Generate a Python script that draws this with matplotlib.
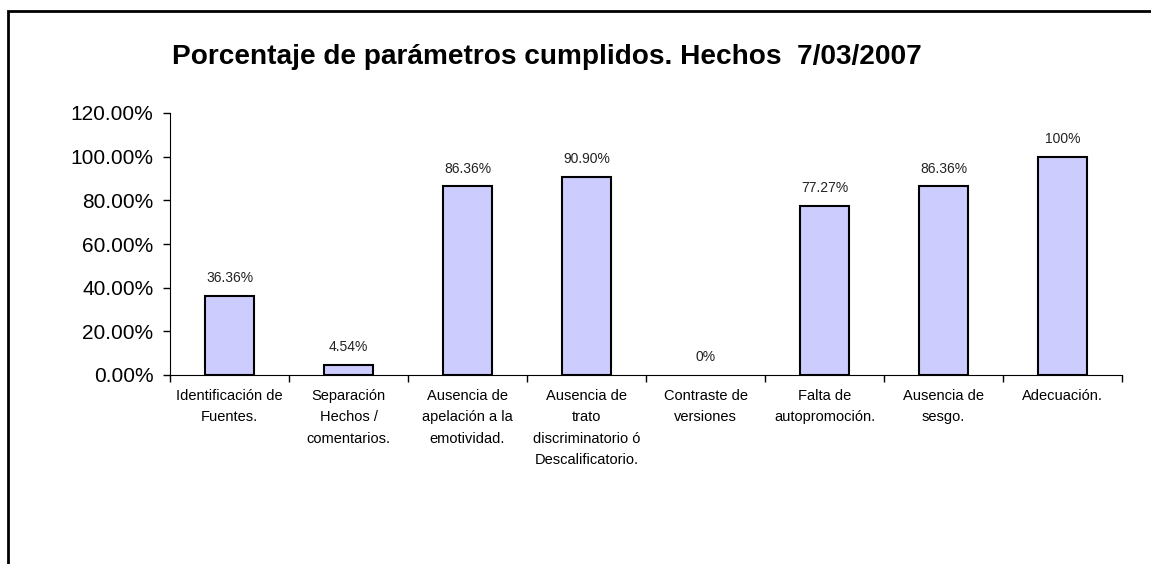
import matplotlib
matplotlib.use("Agg")
import matplotlib.pyplot as plt
from matplotlib.patches import Rectangle
from matplotlib.ticker import FuncFormatter, MultipleLocator

plt.rcParams["font.family"] = ["Liberation Sans", "DejaVu Sans"]

CATEGORIES = [
    "Identificación de\nFuentes.",
    "Separación\nHechos /\ncomentarios.",
    "Ausencia de\napelación a la\nemotividad.",
    "Ausencia de\ntrato\ndiscriminatorio ó\nDescalificatorio.",
    "Contraste de\nversiones",
    "Falta de\nautopromoción.",
    "Ausencia de\nsesgo.",
    "Adecuación.",
]
VALUES = [36.36, 4.54, 86.36, 90.90, 0.0, 77.27, 86.36, 100.0]
VALUE_LABELS = ["36.36%", "4.54%", "86.36%", "90.90%", "0%", "77.27%", "86.36%", "100%"]
TITLE = "Porcentaje de parámetros cumplidos. Hechos  7/03/2007"

fig = plt.figure(figsize=(11.51, 5.64), dpi=100)
# chart frame (only left/top edges visible in the crop)
fig.patches.append(Rectangle((8 / 1151, -0.1), 1.2, (564 - 11) / 564 + 0.1,
                             transform=fig.transFigure, fill=False,
                             edgecolor="black", linewidth=2))

ax = fig.add_axes([170 / 1151, 1 - 375 / 564, (1122 - 170) / 1151, (375 - 113) / 564])
x = list(range(len(VALUES)))
edges = ["black" if v > 0 else "none" for v in VALUES]
ax.bar(x, VALUES, width=0.41, color="#CCCCFF", edgecolor=edges, linewidth=1.5)

for xi, v, lab in zip(x, VALUES, VALUE_LABELS):
    ax.annotate(lab, (xi, v), xytext=(0, 10), textcoords="offset points",
                ha="center", va="baseline", fontsize=10, color="#222222")

ax.set_xlim(-0.5, len(VALUES) - 0.5)
ax.set_ylim(0, 120)
ax.yaxis.set_major_locator(MultipleLocator(20))
ax.yaxis.set_major_formatter(FuncFormatter(lambda v, p: f"{v:.2f}%"))
ax.tick_params(axis="y", labelsize=15, length=5, width=1, direction="out", pad=7)

ax.set_xticks([i - 0.5 for i in range(len(VALUES) + 1)])
ax.set_xticklabels([])
ax.set_xticks(x, minor=True)
ax.set_xticklabels(CATEGORIES, minor=True, fontsize=10.5, linespacing=1.68, va="top")
ax.tick_params(axis="x", which="major", length=5, width=1, direction="out")
ax.tick_params(axis="x", which="minor", length=0, pad=10)

for side in ("top", "right"):
    ax.spines[side].set_visible(False)

fig.text(547 / 1151, 1 - 57 / 564, TITLE, ha="center", va="center",
         fontsize=20.2, fontweight="bold")

fig.savefig("out.png", dpi=100)
